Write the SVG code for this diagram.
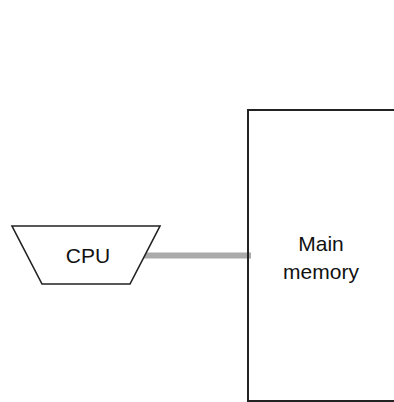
<svg xmlns="http://www.w3.org/2000/svg" width="394" height="402" viewBox="0 0 394 402">
<style>
.shape{fill:#fff;stroke:#222;stroke-width:1.6}
.lbl{font-family:"Liberation Sans",Arial,sans-serif;font-size:21px;fill:#111;text-anchor:middle}
.bus{stroke:#aaa;stroke-width:6;fill:none}
</style>
<rect width="394" height="402" fill="#fff"/>
<g id="connectors">
<line class="bus" x1="142" y1="255.5" x2="251" y2="255.5"/>
</g>
<g id="cpu">
<polygon class="shape" points="12,226 160,226 130,284 42,284"/>
<text class="lbl" x="88" y="263">CPU</text>
</g>
<g id="main-memory">
<path d="M396,110 H248 V401 H396" fill="none" stroke="#222" stroke-width="2"/>
<text class="lbl" x="321" y="251">Main</text>
<text class="lbl" x="321" y="279">memory</text>
</g>
</svg>
